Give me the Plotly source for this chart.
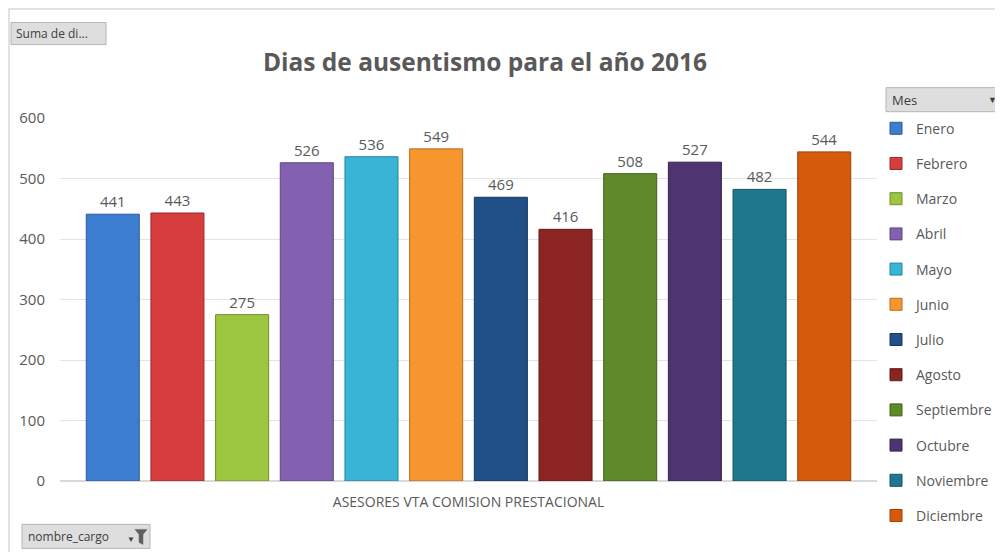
import plotly.graph_objects as go

categoria = ["ASESORES VTA COMISION PRESTACIONAL"]
meses = ["Enero", "Febrero", "Marzo", "Abril", "Mayo", "Junio", "Julio",
         "Agosto", "Septiembre", "Octubre", "Noviembre", "Diciembre"]
dias = [441, 443, 275, 526, 536, 549, 469, 416, 508, 527, 482, 544]
colores = ["#3D7DD0", "#D63D3D", "#9CC63F", "#8360B0", "#39B4D6", "#F7962F",
           "#214F88", "#8C2424", "#5F8A2A", "#4E3572", "#1D778D", "#D65A0B"]
bordes = ["#2A5C9C", "#9E2A2A", "#6F8F2C", "#5E4582", "#28849E", "#B86C1F",
          "#15365F", "#601818", "#42611D", "#352350", "#135363", "#9C4007"]

# the page body adds an 8px margin, so the figure is drawn 8px in
OFF = 8
FW, FH = 1003 - OFF, 552 - OFF

fig = go.Figure()
for i, m in enumerate(meses):
    fig.add_trace(go.Bar(
        x=categoria, y=[dias[i]], name=m, legendgroup=m,
        marker=dict(color=colores[i], line=dict(color=bordes[i], width=1)),
        text=[str(dias[i])], textposition="outside", cliponaxis=False,
        textfont=dict(size=15, color="#595959", family="Open Sans"),
    ))

# plot area in screen pixels
L, R, T, B = 60, 877, 118.3, 480.7
W, H = R - L, B - T


def px(x):
    return (x - L) / W


def py(y):
    return (B - y) / H


fig.update_layout(
    width=FW, height=FH,
    margin=dict(l=L - OFF, r=1003 - R, t=T - OFF, b=552 - B, autoexpand=False),
    paper_bgcolor="white", plot_bgcolor="white",
    barmode="group", bargap=0.05, bargroupgap=0.18,
    title=dict(text="<b>Dias de ausentismo para el año 2016</b>",
               x=(485 - OFF) / FW, xanchor="center",
               y=1 - (62 - OFF) / FH, yanchor="middle",
               font=dict(size=24.5, color="#595959", family="Open Sans")),
    font=dict(family="Open Sans", color="#595959"),
    showlegend=True,
    legend=dict(x=px(876), xanchor="left", y=py(113), yanchor="top",
                font=dict(size=14, color="#595959", family="Open Sans"),
                tracegroupgap=14, bgcolor="rgba(0,0,0,0)", maxheight=500,
                itemclick=False, itemdoubleclick=False),
    xaxis=dict(showgrid=False, showline=True, linecolor="#D9D9D9",
               tickfont=dict(size=14, color="#595959"), ticks="",
               ticklabelstandoff=8),
    yaxis=dict(range=[0, 600], dtick=100, showgrid=True, gridcolor="#E3E3E3",
               zeroline=True, zerolinecolor="#D9D9D9", showline=False,
               tickfont=dict(size=15, color="#595959"), ticks="",
               ticklabelstandoff=14),
)

# chart border
fig.add_shape(type="rect", xref="paper", yref="paper",
              x0=px(9), x1=px(1010), y0=py(560), y1=py(9.5),
              line=dict(color="#D9D9D9", width=1.5), fillcolor="rgba(0,0,0,0)",
              layer="below")


# field buttons
def button(x0, y0, x1, y1):
    fig.add_shape(type="rect", xref="paper", yref="paper",
                  x0=px(x0), x1=px(x1), y0=py(y1), y1=py(y0),
                  line=dict(color="#B5B5B5", width=1), fillcolor="#DEDEDE")


button(11, 23, 106, 45)
fig.add_annotation(text="Suma de di...", xref="paper", yref="paper",
                   x=px(14), y=py(34), xanchor="left", yanchor="middle",
                   showarrow=False, font=dict(size=12, color="#404040"))
button(886, 88, 1000, 112)
fig.add_annotation(text="Mes", xref="paper", yref="paper",
                   x=px(890), y=py(100), xanchor="left", yanchor="middle",
                   showarrow=False, font=dict(size=13, color="#404040"))
fig.add_annotation(text="▼", xref="paper", yref="paper",
                   x=px(992), y=py(100), xanchor="center", yanchor="middle",
                   showarrow=False, font=dict(size=9, color="#404040"))
button(22, 524, 150, 548)
fig.add_annotation(text="nombre_cargo", xref="paper", yref="paper",
                   x=px(26), y=py(536), xanchor="left", yanchor="middle",
                   showarrow=False, font=dict(size=12, color="#404040"))
fig.add_annotation(text="▼", xref="paper", yref="paper",
                   x=px(131), y=py(538), xanchor="center", yanchor="middle",
                   showarrow=False, font=dict(size=8, color="#404040"))
# funnel icon
fx = [135, 147, 143, 143, 139, 139]
fy = [529, 529, 534, 544, 542, 534]
path = "M " + " L ".join(f"{px(a)},{py(b)}" for a, b in zip(fx, fy)) + " Z"
fig.add_shape(type="path", xref="paper", yref="paper", path=path,
              fillcolor="#606060", line=dict(color="#606060", width=0.5))

fig.write_html("out.html")
